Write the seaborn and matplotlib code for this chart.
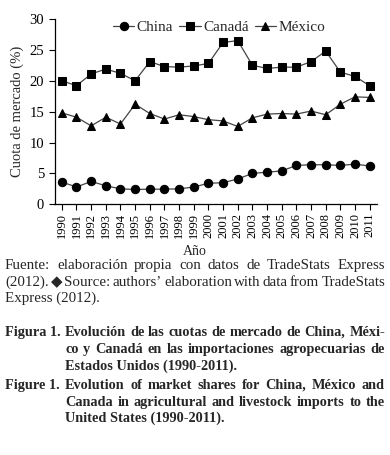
import matplotlib
matplotlib.use("Agg")
import matplotlib.pyplot as plt
import seaborn as sns
import pandas as pd

years = list(range(1990, 2012))
china = [3.6, 2.8, 3.7, 3.0, 2.5, 2.4, 2.45, 2.45, 2.5, 2.8, 3.4, 3.5, 4.1, 5.0, 5.2, 5.4, 6.3, 6.4, 6.4, 6.3, 6.5, 6.2]
canada = [20.0, 19.2, 21.1, 21.9, 21.2, 20.0, 23.1, 22.3, 22.2, 22.4, 22.8, 26.2, 26.5, 22.5, 22.0, 22.2, 22.2, 23.1, 24.8, 21.4, 20.7, 19.2]
mexico = [14.8, 14.1, 12.7, 14.1, 13.0, 16.2, 14.7, 13.8, 14.5, 14.2, 13.7, 13.5, 12.6, 14.0, 14.6, 14.7, 14.6, 15.1, 14.5, 16.2, 17.4, 17.3]
series_names = ["China", "Canadá", "México"]
yticks = [0, 5, 10, 15, 20, 25, 30]

df = pd.DataFrame({
    "Año": years * 3,
    "valor": china + canada + mexico,
    "serie": [series_names[0]] * len(years) + [series_names[1]] * len(years) + [series_names[2]] * len(years),
})

sns.set_theme(style="ticks")
plt.rcParams["font.family"] = ["Liberation Serif", "DejaVu Serif"]

W, H = 390, 455
fig = plt.figure(figsize=(3.9, 4.55), dpi=100)
ax = fig.add_axes([54.5 / W, 1 - 204.3 / H, (377 - 54.5) / W, (204.3 - 19) / H])

sns.lineplot(data=df, x="Año", y="valor", hue="serie", style="serie",
             palette=["black", "black", "black"],
             markers={"China": "o", "Canadá": "s", "México": "^"},
             dashes=False, markersize=6, linewidth=0.9, ax=ax,
             markeredgecolor="black")
for line in ax.lines:
    line.set_color("#444444")
    line.set_markerfacecolor("black")
    line.set_markeredgecolor("black")

ax.set_xlim(1989.5, 2011.5)
ax.set_ylim(0, 30)
ax.set_yticks(yticks)
ax.set_xticks(years)
ax.set_xticklabels([str(y) for y in years], rotation=90)
ax.tick_params(axis="y", labelsize=10.5, direction="out", length=4, width=0.8, colors="black")
ax.tick_params(axis="x", labelsize=9, direction="out", length=4, width=0.8, colors="black", pad=2)
for s in ["top", "right"]:
    ax.spines[s].set_visible(False)
for s in ["left", "bottom"]:
    ax.spines[s].set_linewidth(0.9)
    ax.spines[s].set_color("black")
ax.set_xlabel("")
ax.set_ylabel("Cuota de mercado (%)", fontsize=10.5, labelpad=4)
fig.text(195 / W, 1 - 255 / H, "Año", fontsize=10, ha="center", va="baseline")

handles, labels = ax.get_legend_handles_labels()
for h in handles:
    h.set_color("#444444")
    h.set_markerfacecolor("black")
    h.set_markeredgecolor("black")
ax.legend(handles, labels, loc="upper center", bbox_to_anchor=(0.51, 1.067), ncol=3,
          frameon=False, fontsize=11, handlelength=1.4, handletextpad=0.15,
          columnspacing=0.4)

renderer = fig.canvas.get_renderer()


def put_line(text, x0, x1, y, justify, **kw):
    # y: baseline position in pixels from top
    yf = 1 - y / H
    if not justify:
        fig.text(x0 / W, yf, text, va="baseline", **kw)
        return
    words = text.split(" ")
    widths = []
    for w in words:
        t = fig.text(0, 0, w, **kw)
        widths.append(t.get_window_extent(renderer).width)
        t.remove()
    gap = (x1 - x0 - sum(widths)) / max(len(words) - 1, 1)
    x = x0
    for w, wd in zip(words, widths):
        fig.text(x / W, yf, w, va="baseline", **kw)
        x += wd + gap


fs = 10.8
fsb = 10.3
put_line("Fuente: elaboración propia con datos de TradeStats Express", 5, 385, 269, True, fontsize=fs)
put_line("(2012). \u25c6 Source: authors\u2019 elaboration with data from TradeStats", 5, 385, 286, True, fontsize=fs)
put_line("Express (2012).", 5, 385, 302, False, fontsize=fs)

cap = [
    ("Figura 1.", "Evolución de las cuotas de mercado de China, Méxi-", 336, True),
    ("", "co y Canadá en las importaciones agropecuarias de", 353, True),
    ("", "Estados Unidos (1990-2011).", 370, False),
    ("Figure 1.", "Evolution of market shares for China, México and", 389, True),
    ("", "Canada in agricultural and livestock imports to the", 406, True),
    ("", "United States (1990-2011).", 422, False),
]
for lab, txt, y, j in cap:
    if lab:
        put_line(lab, 5, 60, y, False, fontsize=fsb, fontweight="bold")
    put_line(txt, 65, 385, y, j, fontsize=fsb, fontweight="bold")

fig.savefig("out.png", dpi=100)
